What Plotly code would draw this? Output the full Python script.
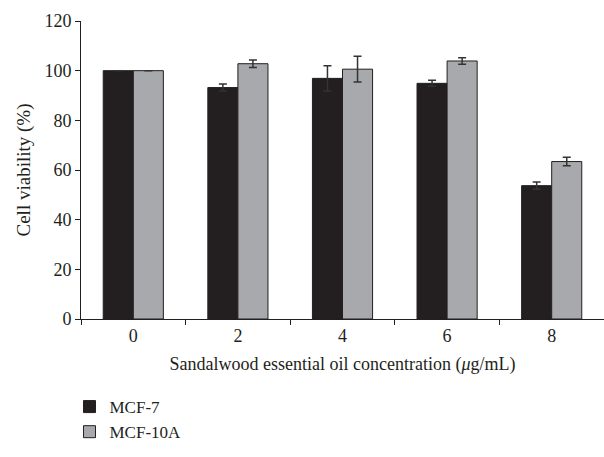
import plotly.graph_objects as go

categories = ["0", "2", "4", "6", "8"]
mcf7 = [100, 93.2, 96.9, 94.9, 53.7]
mcf7_err = [0, 1.4, 5.1, 1.2, 1.5]
mcf10a = [100, 102.8, 100.6, 103.9, 63.4]
mcf10a_err = [0, 1.5, 5.2, 1.3, 1.7]

FONT = "Liberation Serif"
DARK = "#231f20"
GRAY = "#a7a9ac"

fig = go.Figure()
fig.add_trace(go.Bar(
    name="MCF-7", x=categories, y=mcf7,
    marker=dict(color=DARK, line=dict(color=DARK, width=1)),
    error_y=dict(type="data", array=mcf7_err, color="#333", thickness=1.5, width=4),
))
fig.add_trace(go.Bar(
    name="MCF-10A", x=categories, y=mcf10a,
    marker=dict(color=GRAY, line=dict(color=DARK, width=1)),
    error_y=dict(type="data", array=mcf10a_err, color="#333", thickness=1.5, width=4),
))

fig.update_layout(
    width=604, height=457,
    margin=dict(l=81, r=0, t=21, b=138),
    paper_bgcolor="white", plot_bgcolor="white",
    font=dict(family=FONT, size=18, color="#231f20"),
    barmode="group", bargap=0.425, bargroupgap=0,
    showlegend=True,
    legend=dict(x=-0.022, xanchor="left", y=-0.235, yanchor="top",
                orientation="v", font=dict(family=FONT, size=17),
                bgcolor="rgba(0,0,0,0)", tracegroupgap=0),
    xaxis=dict(type="category", range=[-0.5, 4.5], tickson="boundaries",
               showline=True, linecolor="#231f20", linewidth=1,
               ticks="outside", ticklen=5, tickcolor="#231f20",
               showgrid=False, zeroline=False,
               tickfont=dict(family=FONT, size=18),
               title=dict(text="Sandalwood essential oil concentration (<i>μ</i>g/mL)",
                          font=dict(family=FONT, size=18), standoff=12)),
    yaxis=dict(range=[0, 120], tickvals=[0, 20, 40, 60, 80, 100, 120],
               showline=True, linecolor="#231f20", linewidth=1,
               ticks="outside", ticklen=5, tickcolor="#231f20",
               showgrid=False, zeroline=False,
               tickfont=dict(family=FONT, size=18),
               title=dict(text="Cell viability (%)", font=dict(family=FONT, size=19), standoff=8)),
)

fig.write_html("out.html")
